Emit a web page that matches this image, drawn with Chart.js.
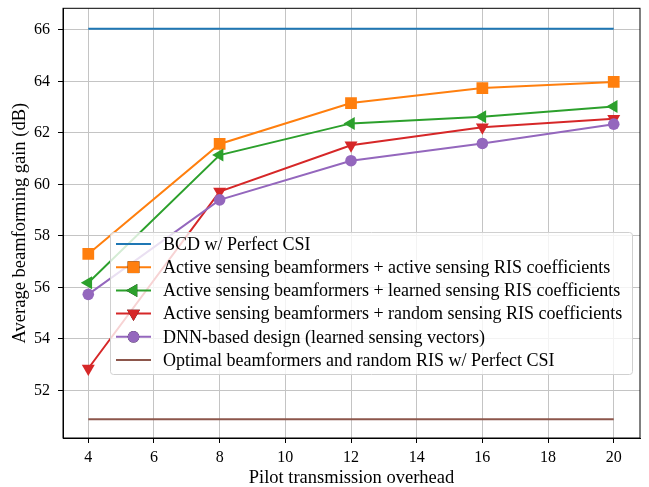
<!DOCTYPE html>
<html>
<head>
<meta charset="utf-8">
<script src="https://cdn.jsdelivr.net/npm/chart.js@4.4.1/dist/chart.umd.min.js"></script>
<style>
  html, body { margin: 0; padding: 0; background: #fff; }
  #wrap { width: 649px; height: 487px; }
</style>
</head>
<body>
<div id="wrap"><canvas id="gainChart" width="649" height="487"></canvas></div>
<script>
// data
const pilots = [4, 8, 12, 16, 20];
const bcdPerfect = [66.05, 66.05];
const activeActive = [57.3, 61.57, 63.16, 63.74, 63.98];
const activeLearned = [56.18, 61.14, 62.37, 62.63, 63.03];
const activeRandom = [52.85, 59.72, 61.52, 62.22, 62.55];
const dnnLearned = [55.73, 59.4, 60.92, 61.59, 62.34];
const optRandom = [50.88, 50.88];
const xTicks = [4, 6, 8, 10, 12, 14, 16, 18, 20];
const yTicks = [52, 54, 56, 58, 60, 62, 64, 66];
const labels = [
  'BCD w/ Perfect CSI',
  'Active sensing beamformers + active sensing RIS coefficients',
  'Active sensing beamformers + learned sensing RIS coefficients',
  'Active sensing beamformers + random sensing RIS coefficients',
  'DNN-based design (learned sensing vectors)',
  'Optimal beamformers and random RIS w/ Perfect CSI'
];

const FONT = 'Liberation Serif';
const pts = ys => ys.map((y, i) => ({ x: pilots[i], y: y }));
const flat = ys => [{ x: pilots[0], y: ys[0] }, { x: pilots[pilots.length - 1], y: ys[1] }];

function series(i, data, color, style, radius, rot) {
  return {
    label: labels[i],
    data: data,
    borderColor: color,
    backgroundColor: color,
    borderWidth: 2,
    pointStyle: style || 'circle',
    pointRadius: radius || 0,
    pointRotation: rot || 0,
    pointBorderWidth: 0,
    pointHoverRadius: radius || 0,
    tension: 0,
    order: -i
  };
}

// legend drawn inside the plot, matplotlib style
const innerLegend = {
  id: 'innerLegend',
  afterDraw(chart) {
    const ctx = chart.ctx;
    const x0 = 110, y0 = 232, w = 522, h = 142;
    ctx.save();
    ctx.fillStyle = 'rgba(255,255,255,0.8)';
    ctx.strokeStyle = '#d0d0d0';
    ctx.lineWidth = 1;
    ctx.beginPath();
    ctx.roundRect(x0 + 0.5, y0 + 0.5, w, h, 3);
    ctx.fill();
    ctx.stroke();
    ctx.font = '18px "' + FONT + '"';
    ctx.textBaseline = 'middle';
    chart.data.datasets.forEach((ds, i) => {
      const y = 244 + i * 23.2;
      ctx.strokeStyle = ds.borderColor;
      ctx.lineWidth = 2;
      ctx.beginPath();
      ctx.moveTo(116, y);
      ctx.lineTo(151, y);
      ctx.stroke();
      if (ds.pointRadius > 0) {
        Chart.helpers.drawPoint(ctx, {
          pointStyle: ds.pointStyle, rotation: ds.pointRotation,
          radius: ds.pointRadius, borderWidth: 0
        }, 133.5, y);
        ctx.fillStyle = ds.backgroundColor;
        ctx.fill();
      }
      ctx.fillStyle = '#000';
      ctx.fillText(ds.label, 163, y + 1);
    });
    ctx.restore();
  }
};

// top and right spines
const frame = {
  id: 'frame',
  beforeDatasetsDraw(chart) {
    const a = chart.chartArea, ctx = chart.ctx;
    ctx.save();
    ctx.strokeStyle = '#000';
    ctx.lineWidth = 1;
    ctx.strokeRect(a.left, a.top, a.right - a.left, a.bottom - a.top);
    ctx.restore();
  }
};

new Chart(document.getElementById('gainChart'), {
  type: 'line',
  data: {
    datasets: [
      series(0, flat(bcdPerfect), '#1f77b4'),
      series(1, pts(activeActive), '#ff7f0e', 'rect', 8.3),
      series(2, pts(activeLearned), '#2ca02c', 'triangle', 7.5, -90),
      series(3, pts(activeRandom), '#d62728', 'triangle', 7.5, 180),
      series(4, pts(dnnLearned), '#9467bd', 'circle', 5.8),
      series(5, flat(optRandom), '#8c564b')
    ]
  },
  options: {
    responsive: false,
    animation: false,
    layout: { padding: { top: 7, right: 9, left: 0, bottom: 0 } },
    plugins: { legend: { display: false }, tooltip: { enabled: false } },
    scales: {
      x: {
        type: 'linear',
        min: 3.23,
        max: 20.8,
        afterBuildTicks: s => { s.ticks = xTicks.map(v => ({ value: v })); },
        afterFit: s => { s.height = 49; s.paddingLeft = 0; s.paddingRight = 0; },
        grid: { color: '#c4c4c4', lineWidth: 1, tickLength: 5, tickColor: '#000' },
        border: { color: '#000', width: 1 },
        ticks: { color: '#000', font: { family: FONT, size: 16 }, padding: 5, maxRotation: 0 },
        title: { display: true, text: 'Pilot transmission overhead', color: '#000',
                 font: { family: FONT, size: 18.5, lineHeight: 1.0 }, padding: { top: 5, bottom: 0 } }
      },
      y: {
        min: 50.15,
        max: 66.84,
        afterBuildTicks: s => { s.ticks = yTicks.map(v => ({ value: v })); },
        afterFit: s => { s.width = 63; s.paddingTop = 0; s.paddingBottom = 0; },
        grid: { color: '#c4c4c4', lineWidth: 1, tickLength: 5, tickColor: '#000' },
        border: { color: '#000', width: 1 },
        ticks: { color: '#000', font: { family: FONT, size: 16 }, padding: 8 },
        title: { display: true, text: 'Average beamforming gain (dB)', color: '#000',
                 font: { family: FONT, size: 18.5 }, padding: { top: 9, bottom: 0 } }
      }
    }
  },
  plugins: [frame, innerLegend]
});
</script>
</body>
</html>
